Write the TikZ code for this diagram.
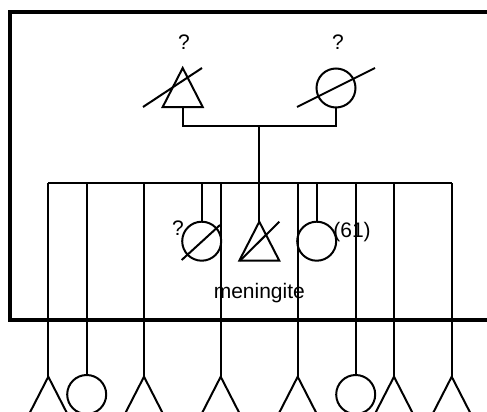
\documentclass[tikz,border=0pt]{standalone}
\usepackage{fontspec}
\setmainfont{Liberation Sans}
\begin{document}
\begin{tikzpicture}[x=1pt,y=-1pt,line width=2pt,
  frame/.style={line width=4pt},
  female/.style={draw,circle,minimum size=39pt,inner sep=0pt,outer sep=0pt},
  lbl/.style={font=\fontsize{21}{23}\selectfont,inner sep=0pt}]
\useasboundingbox (0,0) rectangle (487,412);
\clip (0,0) rectangle (487,412);
% frame
\draw[frame] (10,12) rectangle (505,320);
% parents
\coordinate (fa) at (182.7,68);
\coordinate (fab) at (182.7,107);
\draw (fa) -- ++(-20,39) -- ++(40,0) -- cycle;
\draw (143,107) -- (202,68);
\node[female] (mo) at (336,88) {};
\draw (297,107) -- (375,68);
\node[lbl] (q1) at (184,42) {?};
\node[lbl] (q2) at (338,42) {?};
\coordinate (mid) at (259.3,126);
\draw (fab) |- (mid) -| (mo.south);
\coordinate (sib) at (259.3,183.3);
\draw (mid) -- (sib);
\coordinate (sl) at (48.3,183.3);
\coordinate (sr) at (451.7,183.3);
\draw (sl) -- (sr);
% inner children
\node[female] (c1) at (201.7,241.2) {};
\draw (181.7,260) -- (220,225);
\node[lbl] (q3) at (178,228) {?};
\coordinate (c2) at (259.3,221.7);
\draw (c2) -- ++(-20,39) -- ++(40,0) -- cycle;
\draw (240,260.7) -- (279.3,221.7);
\node[female] (c3) at (316.7,241.2) {};
\node[lbl] (n61) at (352,232) {(61)};
\node[lbl] (men) at (259.3,293.3) {meningite};
\draw (c1.north) -- (c1.north |- sl);
\draw (sib) -- (c2);
\draw (c3.north) -- (c3.north |- sl);
% bottom children
\foreach \x [count=\i] in {48.3,144,220.7,297.7,394,451.7}{
  \coordinate (t\i) at (\x,376.7);
  \draw (t\i) -- ++(-20,39) -- ++(40,0) -- cycle;
  \draw (t\i) -- (t\i |- sl);
}
\foreach \x [count=\i] in {86.7,355.7}{
  \node[female] (b\i) at (\x,394.5) {};
  \draw (b\i.north) -- (b\i.north |- sl);
}
\end{tikzpicture}
\end{document}
